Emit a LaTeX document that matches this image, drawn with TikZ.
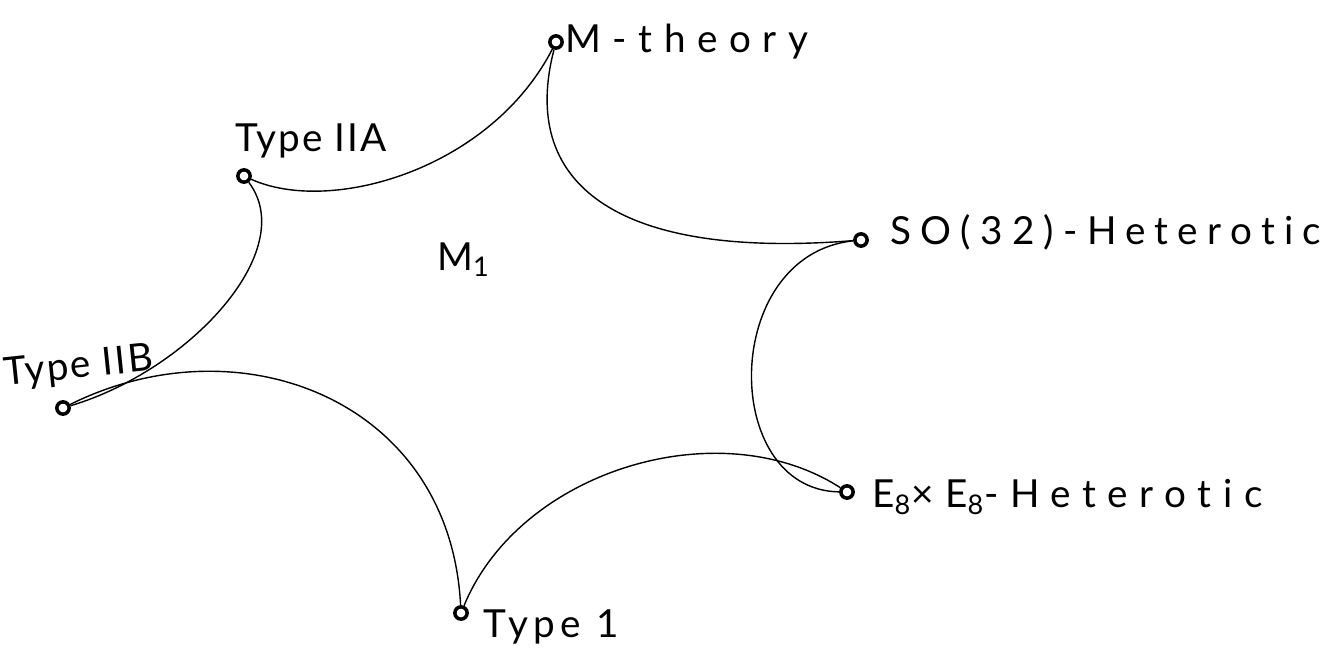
\documentclass[tikz,border=0pt]{standalone}
\usepackage{fontspec}
\setsansfont{Lato}[Ligatures=NoCommon]
\usetikzlibrary{positioning}
\tikzset{
  pt/.style={circle,draw,line width=2pt,inner sep=0pt,minimum size=7pt,fill=white},
  lbl/.style={font=\sffamily\fontsize{22}{26}\selectfont,inner sep=0pt,anchor=base west},
  arc/.style={line width=0.8pt},
}

\begin{document}
\begin{tikzpicture}[x=0.02cm,y=-0.02cm]
\useasboundingbox (0,0) rectangle (1329,670);
% the six limits
\node[pt] (mth) at (556,42) {};
\node[pt] (iia) at (244,176) {};
\node[pt] (so) at (861,240) {};
\node[pt] (iib) at (63,408) {};
\node[pt] (eight) at (847,492) {};
\node[pt] (one) at (461,613) {};
% their names
\node[lbl] (mthname) at (565,52) {\addfontfeatures{LetterSpace=30}M-theory};
\node[lbl] (iianame) at (235,151) {\addfontfeatures{LetterSpace=5}Type IIA};
\node[lbl] (soname) at (890,244) {\addfontfeatures{LetterSpace=24}SO(32)-Heterotic};
\node[lbl,rotate=6] (iibname) at (5,386) {\addfontfeatures{LetterSpace=5}Type IIB};
\node[lbl] (eightname) at (872,507) {\addfontfeatures{LetterSpace=30}E\textsubscript{8}×E\textsubscript{8}-Heterotic};
\node[lbl] (onename) at (483,637) {\addfontfeatures{LetterSpace=14}Type 1};
\node[lbl] (space) at (437,270) {M\textsubscript{1}};
% edges, bent inwards
\draw[arc] (iia) .. controls (330,215) and (490,170) .. (mth);
\draw[arc] (mth) .. controls (520,180) and (610,260) .. (so);
\draw[arc] (so) .. controls (720,255) and (720,490) .. (eight);
\draw[arc] (eight) .. controls (720,410) and (520,470) .. (one);
\draw[arc] (one) .. controls (450,400) and (240,320) .. (iib);
\draw[arc] (iib) .. controls (190,370) and (300,250) .. (iia);
\end{tikzpicture}
\end{document}
